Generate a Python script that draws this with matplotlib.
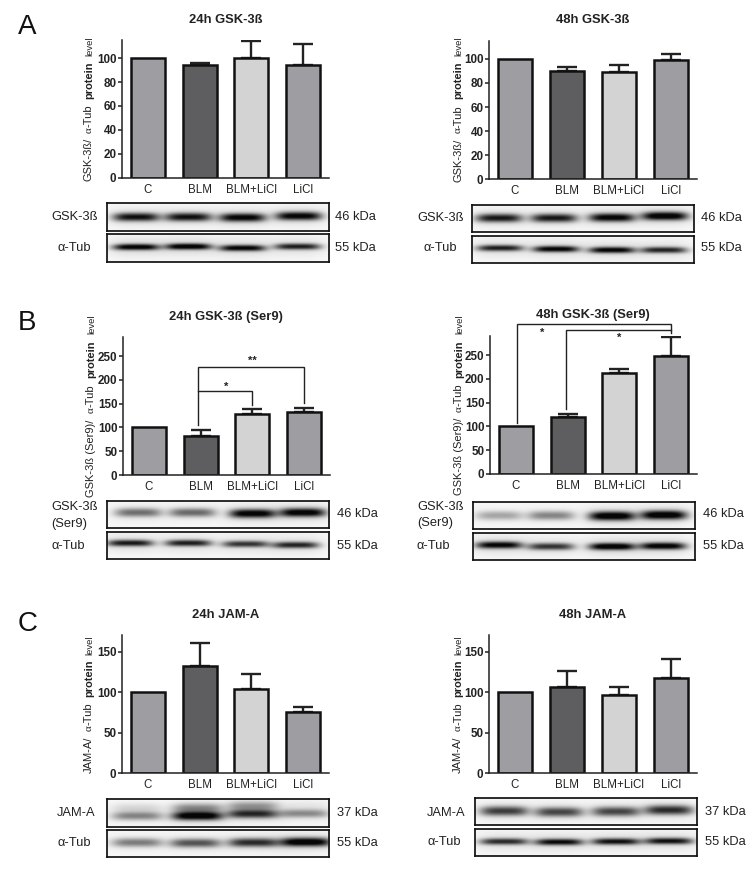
import numpy as np
import matplotlib
matplotlib.use("Agg")
import matplotlib.pyplot as plt

plt.rcParams['font.family'] = ['Liberation Sans', 'DejaVu Sans']
W, H = 753, 874
fig = plt.figure(figsize=(W / 100, H / 100), dpi=100, facecolor='white')

# ---------- data ----------
categories = ['C', 'BLM', 'BLM+LiCl', 'LiCl']
bar_colors = ['#9e9da2', '#5e5e60', '#d3d3d3', '#9e9da2']

gsk_24_mean = [100, 94, 100, 94]
gsk_24_top = [100, 96, 114, 112]
gsk_48_mean = [100, 90, 89, 99.5]
gsk_48_top = [100, 93, 95, 104]
ser9_24_mean = [100, 82, 128, 132]
ser9_24_top = [100, 94, 138, 141]
ser9_48_mean = [100, 119, 213, 247]
ser9_48_top = [100, 127, 221, 287]
jam_24_mean = [100, 133, 104, 76]
jam_24_top = [100, 161, 123, 82]
jam_48_mean = [100, 107, 97, 118]
jam_48_top = [100, 126, 107, 141]

ticks_gsk = [0, 20, 40, 60, 80, 100]
ticks_ser9 = [0, 50, 100, 150, 200, 250]
ticks_jam = [0, 50, 100, 150]

# band darkness per lane
band_a24_gsk = [.85, .85, .92, .92]
band_a24_tub = [.95, .98, .92, .8]
band_a48_gsk = [.82, .82, .92, .98]
band_a48_tub = [.8, .92, .92, .78]
band_b24_ser = [.5, .52, .95, .95]
band_b24_tub = [.82, .8, .72, .78]
band_b48_ser = [.3, .42, 1.0, 1.0]
band_b48_tub = [.92, .72, 1.0, .95]
band_c24_jam = [.42, .98, .75, .4]
band_c24_jam_upper = [.12, .42, .38, .05]
band_c24_tub = [.45, .6, .75, 1.0]
band_c48_jam = [.68, .65, .65, .75]
band_c48_tub = [.75, .88, .85, .85]

# ---------- layout (figure pixels) ----------
def axes_px(l, r, top, bottom, **kw):
    return fig.add_axes([l / W, 1 - bottom / H, (r - l) / W, (bottom - top) / H], **kw)

def put(x, y, s, **kw):
    kw.setdefault('ha', 'center')
    kw.setdefault('va', 'center')
    kw.setdefault('color', '#222222')
    return fig.text(x / W, 1 - y / H, s, **kw)

def ylabel(x, y_start, target, name):
    pieces = [(name + '/', dict(fontsize=8.0), 1),
              ('\u03b1', dict(fontsize=8.0, family='Liberation Serif'), 0),
              ('-Tub', dict(fontsize=8.0), 1),
              ('protein', dict(fontsize=7.9, fontweight='bold'), 1),
              ('level', dict(fontsize=6.8), 0)]
    renderer = fig.canvas.get_renderer()
    probe = []
    for s, kw, weight in pieces:
        t = fig.text(0, 0, s, rotation=90, **kw)
        probe.append(t.get_window_extent(renderer).height)
        t.remove()
    unit = max(target - sum(probe), 0) / sum(p[2] for p in pieces)
    y = y_start
    for (s, kw, weight), h in zip(pieces, probe):
        fig.text(x / W, 1 - y / H, s, rotation=90,
                 rotation_mode='anchor', ha='left', va='baseline', color='#222222', **kw)
        y -= h + weight * unit

def bars(l, r, top, bottom, ymax, mean, upper, ticks):
    ax = axes_px(l, r, top, bottom)
    ax.patch.set_alpha(0)
    x = np.arange(len(categories))
    err = np.array(upper) - np.array(mean)
    shown = err > 0
    ax.bar(x, mean, width=0.66, color=bar_colors, edgecolor='#111111', linewidth=1.8, zorder=2)
    ax.errorbar(x[shown], np.array(mean)[shown], yerr=[np.zeros(shown.sum()), err[shown]],
                fmt='none', ecolor='#222222', elinewidth=1.7, capsize=7, capthick=1.7, zorder=1)
    ax.set_xlim(-0.5, 3.5)
    ax.set_ylim(0, ymax)
    ax.set_xticks(x, categories)
    ax.set_yticks(ticks)
    for s in ('top', 'right'):
        ax.spines[s].set_visible(False)
    for s in ('left', 'bottom'):
        ax.spines[s].set_linewidth(1.1)
        ax.spines[s].set_color('#222222')
    ax.tick_params(axis='x', length=0, pad=4, labelsize=8.3, labelcolor='#222222')
    ax.tick_params(axis='y', length=3, width=1.1, pad=1, labelsize=8.4, color='#222222', labelcolor='#222222')
    for t in ax.get_yticklabels():
        t.set_fontweight('bold')
    return ax

def blot(l, r, top, bottom, lane_x, lane_y, strength, sigma, half=23, upper=None, upper_dy=8):
    ax = axes_px(l, r, top, bottom)
    xx, yy = np.meshgrid(np.linspace(l, r, (r - l) * 3), np.linspace(top, bottom, (bottom - top) * 3))
    dark = np.zeros_like(xx)
    for i, (cx, cy, s) in enumerate(zip(lane_x, lane_y, strength)):
        prof = np.exp(-np.abs((xx - cx) / half) ** 4)
        bow = 0.2 * ((xx - cx) / half) ** 2
        dark += 1.02 * s * prof * np.exp(-(np.abs(yy - cy - bow) / (1.41 * sigma)) ** 2.2)
        dark += 0.13 * s * np.exp(-np.abs((xx - cx) / (half * 1.25)) ** 3) * np.exp(-((yy - cy) / 7.0) ** 2 / 2)
        if upper is not None:
            dark += upper[i] * prof * np.exp(-((yy - cy + upper_dy) / 3.5) ** 2 / 2)
    img = 0.975 - 0.95 * np.clip(dark, 0, 1)
    ax.imshow(img, cmap='gray', vmin=0, vmax=1, extent=(l, r, bottom, top), aspect='auto',
              interpolation='bilinear')
    ax.set_xticks([])
    ax.set_yticks([])
    for s in ax.spines.values():
        s.set_linewidth(1.25)
        s.set_color('#111111')
    return ax

def bracket(ax, xs, ys, **kw):
    ax.plot(xs, ys, color='#222222', lw=1.0, clip_on=False, zorder=3, solid_joinstyle='miter')

def star(ax, x, y, s):
    ax.text(x, y, s, ha='center', va='center', fontsize=8, fontweight='bold', color='#222222', clip_on=False)

LAB = 9.3
TITLE = 9.4

# ----- A -----
put(18, 27, 'A', fontsize=20, ha='left', color='#111111')
bars(122, 329, 40, 178, 115, gsk_24_mean, gsk_24_top, ticks_gsk)
put(225.5, 20, '24h GSK-3ß', fontsize=TITLE, fontweight='bold')
ylabel(92, 181, 144, 'GSK-3ß')
blot(107, 329, 203, 231, [136, 188, 242, 298], [217, 217, 217.5, 216], band_a24_gsk, 3.0)
blot(107, 329, 234, 262, [136, 188, 242, 297], [247, 246.5, 248, 246.5], band_a24_tub, 2.2)
put(75, 217, 'GSK-3ß', fontsize=LAB)
put(74, 248, '\u03b1-Tub', fontsize=LAB)
put(335, 217, '46 kDa', fontsize=LAB, ha='left')
put(335, 248, '55 kDa', fontsize=LAB, ha='left')

bars(489, 697, 41, 179, 115, gsk_48_mean, gsk_48_top, ticks_gsk)
put(593, 20, '48h GSK-3ß', fontsize=TITLE, fontweight='bold')
ylabel(461, 182, 145, 'GSK-3ß')
blot(472, 694, 205, 232, [499, 554, 612, 665], [218, 218, 217.5, 216], band_a48_gsk, 3.0)
blot(472, 694, 236, 263, [500, 556, 612, 664], [248, 249, 250, 250], band_a48_tub, 2.2)
put(441, 218, 'GSK-3ß', fontsize=LAB)
put(440, 248, '\u03b1-Tub', fontsize=LAB)
put(701, 218, '46 kDa', fontsize=LAB, ha='left')
put(701, 248, '55 kDa', fontsize=LAB, ha='left')

# ----- B -----
put(18, 323, 'B', fontsize=20, ha='left', color='#111111')
ax = bars(123, 330, 337, 475, 290, ser9_24_mean, ser9_24_top, ticks_ser9)
put(226, 317, '24h GSK-3ß (Ser9)', fontsize=TITLE, fontweight='bold')
ylabel(94, 497, 182, 'GSK-3ß (Ser9)')
bracket(ax, [0.94, 0.94, 3, 3], [105, 227, 227, 151])
bracket(ax, [0.94, 2, 2], [176, 176, 147])
star(ax, 2.0, 240, '**')
star(ax, 1.5, 186, '*')
blot(107, 329, 501, 528, [138, 192, 252, 302], [512.5, 512.5, 513.5, 512.5], band_b24_ser, 3.1)
blot(107, 329, 532, 559, [130, 188, 245, 295], [543, 543, 544, 545], band_b24_tub, 2.3)
put(51, 507, 'GSK-3ß', fontsize=LAB, ha='left')
put(51, 524, '(Ser9)', fontsize=LAB, ha='left')
put(51, 546, '\u03b1-Tub', fontsize=LAB, ha='left')
put(337, 514, '46 kDa', fontsize=LAB, ha='left')
put(337, 546, '55 kDa', fontsize=LAB, ha='left')

ax = bars(490, 697, 336, 474, 290, ser9_48_mean, ser9_48_top, ticks_ser9)
put(593, 315, '48h GSK-3ß (Ser9)', fontsize=TITLE, fontweight='bold')
ylabel(462, 495, 180, 'GSK-3ß (Ser9)')
bracket(ax, [0.02, 0.02, 3, 3], [107, 315, 315, 296])
bracket(ax, [0.97, 0.97, 3], [137, 302.5, 302.5])
star(ax, 0.5, 296, '*')
star(ax, 2.0, 286, '*')
blot(473, 695, 502, 529, [499, 551, 612, 664], [515.5, 515.5, 516, 515], band_b48_ser, 3.2)
blot(473, 695, 533, 560, [499, 551, 612, 663], [545, 546.5, 546.5, 546], band_b48_tub, 2.5)
put(417, 507, 'GSK-3ß', fontsize=LAB, ha='left')
put(417, 523, '(Ser9)', fontsize=LAB, ha='left')
put(417, 546, '\u03b1-Tub', fontsize=LAB, ha='left')
put(703, 514, '46 kDa', fontsize=LAB, ha='left')
put(703, 546, '55 kDa', fontsize=LAB, ha='left')

# ----- C -----
put(18, 624, 'C', fontsize=20, ha='left', color='#111111')
bars(122, 329, 635, 773, 171, jam_24_mean, jam_24_top, ticks_jam)
put(226, 615, '24h JAM-A', fontsize=TITLE, fontweight='bold')
ylabel(92, 773, 138, 'JAM-A')
blot(107, 329, 799, 827, [137, 197, 252, 303], [816, 816, 814, 813.5], band_c24_jam, 3.0,
     half=25, upper=band_c24_jam_upper)
blot(107, 329, 830, 857, [137, 195, 253, 305], [842.5, 843, 842.5, 842], band_c24_tub, 3.1, half=25)
put(57, 813, 'JAM-A', fontsize=LAB, ha='left')
put(57, 843, '\u03b1-Tub', fontsize=LAB, ha='left')
put(337, 813, '37 kDa', fontsize=LAB, ha='left')
put(337, 843, '55 kDa', fontsize=LAB, ha='left')

bars(489, 697, 635, 773, 171, jam_48_mean, jam_48_top, ticks_jam)
put(593, 615, '48h JAM-A', fontsize=TITLE, fontweight='bold')
ylabel(461, 773, 138, 'JAM-A')
blot(475, 697, 798, 825, [504, 559, 616, 669], [811, 812, 811.5, 810], band_c48_jam, 3.4, half=24)
blot(475, 697, 829, 856, [504, 559, 616, 669], [841.5, 842, 841.5, 841], band_c48_tub, 2.3, half=24)
put(427, 813, 'JAM-A', fontsize=LAB, ha='left')
put(427, 842, '\u03b1-Tub', fontsize=LAB, ha='left')
put(705, 812, '37 kDa', fontsize=LAB, ha='left')
put(705, 842, '55 kDa', fontsize=LAB, ha='left')

fig.savefig('out.png', dpi=100, facecolor='white')
